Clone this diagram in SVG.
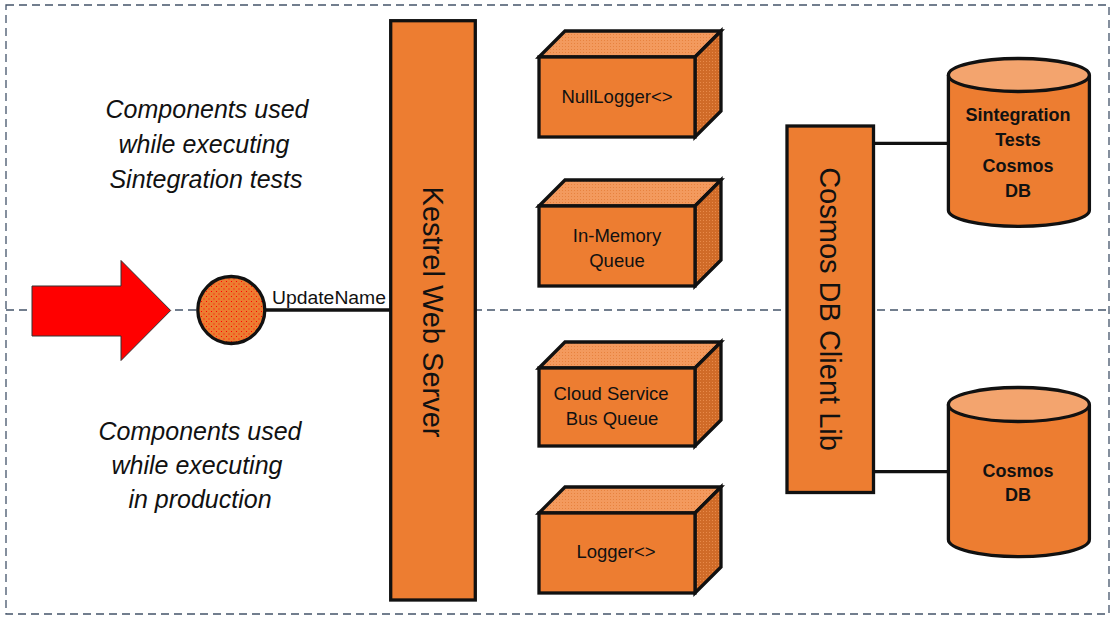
<svg xmlns="http://www.w3.org/2000/svg" width="1115" height="619" viewBox="0 0 1115 619">
<defs>
<pattern id="reddots" width="5" height="5" patternUnits="userSpaceOnUse">
<rect width="5" height="5" fill="#ED7D31"/>
<rect x="1" y="1" width="1" height="1" fill="#FF0000"/>
<rect x="3.5" y="3.5" width="1" height="1" fill="#FF0000"/>
</pattern>
<pattern id="topdots" width="3" height="3" patternUnits="userSpaceOnUse">
<rect width="3" height="3" fill="#F39A5E"/>
<rect x="1" y="1" width="1" height="1" fill="#E7823E"/>
</pattern>
<pattern id="sidedots" width="3" height="3" patternUnits="userSpaceOnUse">
<rect width="3" height="3" fill="#D06B28"/>
<rect x="1" y="1" width="1" height="1" fill="#E88A4A"/>
</pattern>
<style>
.dash{fill:none;stroke:#44546A;stroke-width:1.3;stroke-dasharray:8 5}
.front{fill:#ED7D31;stroke:#111;stroke-width:3.3;stroke-linejoin:miter}
.top{fill:url(#topdots);stroke:#111;stroke-width:3.3;stroke-linejoin:miter}
.side{fill:url(#sidedots);stroke:#111;stroke-width:3.3;stroke-linejoin:miter}
.lbl{font-family:"Liberation Sans",Arial,sans-serif;font-size:18.5px;fill:#111;text-anchor:middle}
.db{font-family:"Liberation Sans",Arial,sans-serif;font-size:18px;font-weight:bold;fill:#111;text-anchor:middle}
.big{font-family:"Liberation Sans",Arial,sans-serif;font-size:29px;fill:#111;text-anchor:middle}
.note{font-family:"Liberation Sans",Arial,sans-serif;font-size:25px;font-style:italic;fill:#111;text-anchor:middle}
.conn{stroke:#111;stroke-width:3.3;fill:none}
.cyl{fill:#ED7D31;stroke:#111;stroke-width:3.3}
.cyltop{fill:#F3A46E;stroke:#111;stroke-width:3.3}
</style>
</defs>
<rect width="1115" height="619" fill="#fff"/>
<g id="frame">
<rect class="dash" x="6" y="5" width="1103" height="609"/>
<line class="dash" x1="6" y1="310" x2="1109" y2="310"/>
</g>
<g id="notes">
<text class="note" x="207" y="118">Components used</text>
<text class="note" x="204" y="153">while executing</text>
<text class="note" x="206" y="188">Sintegration tests</text>
<text class="note" x="200" y="440">Components used</text>
<text class="note" x="197" y="474">while executing</text>
<text class="note" x="200" y="508">in production</text>
</g>
<g id="connectors">
<line class="conn" x1="265" y1="310" x2="390" y2="310"/>
<line class="conn" x1="874" y1="143.3" x2="949" y2="143.3"/>
<line class="conn" x1="874" y1="471.7" x2="949" y2="471.7"/>
</g>
<g id="arrow">
<path d="M32,286 L121,286 L121,260.5 L170.7,310.5 L121,360.5 L121,336 L32,336 Z" fill="#FF0000" stroke="#333" stroke-width="1"/>
</g>
<g id="endpoint">
<circle cx="231.3" cy="310" r="33.5" fill="url(#reddots)" stroke="#111" stroke-width="3.3"/>
<text x="272" y="304" textLength="114" lengthAdjust="spacingAndGlyphs" style="font-family:'Liberation Sans',Arial,sans-serif;font-size:17.5px;fill:#111">UpdateName</text>
</g>
<g id="kestrel">
<rect class="front" x="390.7" y="20.7" width="84.6" height="579.3"/>
<text class="big" transform="translate(433,312) rotate(90)" y="10">Kestrel Web Server</text>
</g>
<g id="nulllogger">
<path class="top" d="M539,57 L565,31 L721,31 L695,57 Z"/>
<path class="side" d="M695,57 L721,31 L721,111 L695,137 Z"/>
<rect class="front" x="539" y="57" width="156" height="80"/>
<text class="lbl" x="617" y="103">NullLogger&lt;&gt;</text>
</g>
<g id="inmemory">
<path class="top" d="M539,206 L565,180 L721,180 L695,206 Z"/>
<path class="side" d="M695,206 L721,180 L721,260 L695,286 Z"/>
<rect class="front" x="539" y="206" width="156" height="80"/>
<text class="lbl" x="617" y="242">In-Memory</text>
<text class="lbl" x="617" y="267">Queue</text>
</g>
<g id="cloudbus">
<path class="top" d="M539,368 L565,342 L721,342 L695,368 Z"/>
<path class="side" d="M695,368 L721,342 L721,420 L695,446 Z"/>
<rect class="front" x="539" y="368" width="156" height="78"/>
<text class="lbl" x="611" y="400">Cloud Service</text>
<text class="lbl" x="612" y="425">Bus Queue</text>
</g>
<g id="logger">
<path class="top" d="M539,513 L565,487 L721,487 L695,513 Z"/>
<path class="side" d="M695,513 L721,487 L721,567 L695,593 Z"/>
<rect class="front" x="539" y="513" width="156" height="80"/>
<text class="lbl" x="616" y="558">Logger&lt;&gt;</text>
</g>
<g id="cosmoslib">
<rect class="front" x="787" y="126" width="86.5" height="366.5"/>
<text class="big" transform="translate(830,309) rotate(90)" y="10">Cosmos DB Client Lib</text>
</g>
<g id="testdb">
<path class="cyl" d="M948.4,75 L948.4,210.3 A70.5,16 0 0 0 1089.4,210.3 L1089.4,75"/>
<ellipse class="cyltop" cx="1018.9" cy="75" rx="70.5" ry="16.5"/>
<text class="db" x="1018" y="121">Sintegration</text>
<text class="db" x="1018" y="146">Tests</text>
<text class="db" x="1018" y="172">Cosmos</text>
<text class="db" x="1018" y="197">DB</text>
</g>
<g id="proddb">
<path class="cyl" d="M948.4,404.5 L948.4,539.6 A70.5,17 0 0 0 1089.4,539.6 L1089.4,404.5"/>
<ellipse class="cyltop" cx="1018.9" cy="404.5" rx="70.5" ry="17"/>
<text class="db" x="1018" y="477">Cosmos</text>
<text class="db" x="1018" y="501">DB</text>
</g>
</svg>
